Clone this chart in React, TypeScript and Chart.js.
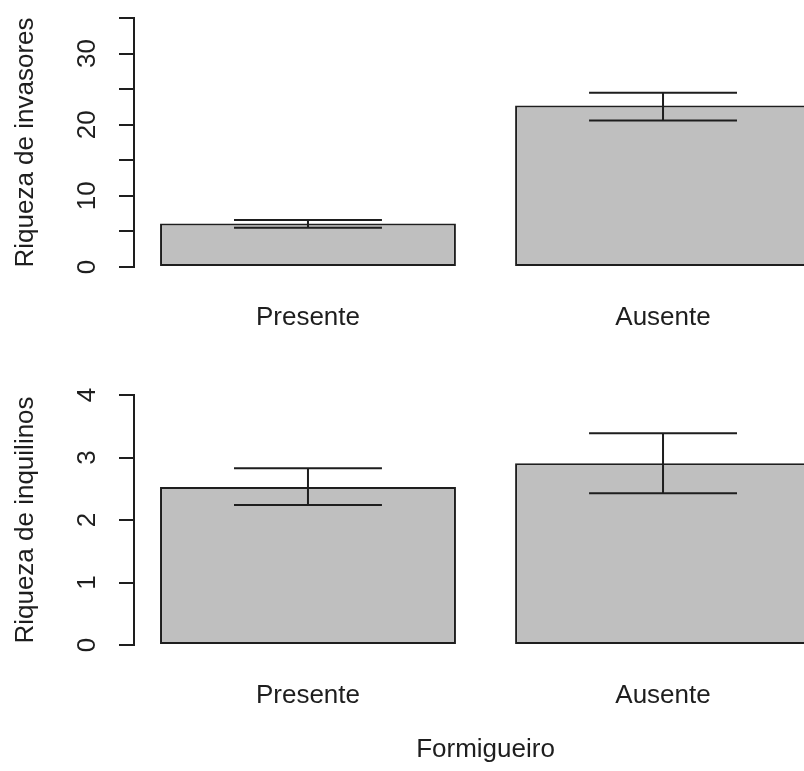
import React, { useEffect, useRef } from "react";
import { Chart, registerables } from "chart.js";

Chart.register(...registerables);

// ---- data ----
const categories = ["Presente", "Ausente"];

const invasoresMeans = [6.1, 22.7];
const invasoresLow = [5.5, 20.6];
const invasoresHigh = [6.6, 24.5];

const inquilinosMeans = [2.53, 2.91];
const inquilinosLow = [2.24, 2.43];
const inquilinosHigh = [2.83, 3.39];

const invasoresAxisMax = 35;
const invasoresTickStep = 5;
const invasoresLabelEvery = 10;

const inquilinosAxisMax = 4;
const inquilinosTickStep = 1;
const inquilinosLabelEvery = 1;

const yTitleTop = "Riqueza de invasores";
const yTitleBottom = "Riqueza de inquilinos";
const xTitle = "Formigueiro";

// R barplot geometry (space between bars = 0.2 of bar width)
const barSpace = 0.2;
const positions = categories.map((_, i) => barSpace + 0.5 + i * (1 + barSpace));
const xLeft = barSpace;
const xRight = positions[positions.length - 1] + 0.5;
const xExt = (xRight - xLeft) * 0.04;
const xMin = xLeft - xExt;
const xMax = xRight + xExt;

const FONT_FAMILY = "'Liberation Sans', Arial, Helvetica, sans-serif";
const INK = "#1e1e1e";
const CANVAS_W = 860;

function makeErrorPlugin(low: number[], high: number[]) {
  return {
    id: "errorBars",
    afterDatasetsDraw(chart: any) {
      const meta = chart.getDatasetMeta(0);
      const y = chart.scales.y;
      const ctx = chart.ctx;
      ctx.save();
      ctx.strokeStyle = INK;
      ctx.lineWidth = 2;
      meta.data.forEach((bar: any, i: number) => {
        const x = bar.x;
        const half = bar.width / 4;
        const yl = y.getPixelForValue(low[i]);
        const yh = y.getPixelForValue(high[i]);
        ctx.beginPath();
        ctx.moveTo(x, yl);
        ctx.lineTo(x, yh);
        ctx.moveTo(x - half, yl);
        ctx.lineTo(x + half, yl);
        ctx.moveTo(x - half, yh);
        ctx.lineTo(x + half, yh);
        ctx.stroke();
      });
      ctx.restore();
    },
  };
}

type PanelProps = {
  top: number;
  height: number;
  means: number[];
  low: number[];
  high: number[];
  yMax: number;
  yStep: number;
  labelEvery: number;
  yTitle: string;
  padTop: number;
  xAxisHeight: number;
  yTickPadding: number;
  showXTitle: boolean;
};

function Panel(p: PanelProps) {
  const ref = useRef<HTMLCanvasElement | null>(null);
  useEffect(() => {
    if (!ref.current) return;
    const font = { family: FONT_FAMILY, size: 26 };
    const chart = new Chart(ref.current, {
      type: "bar",
      data: {
        datasets: [
          {
            data: positions.map((x, i) => ({ x, y: p.means[i] })),
            backgroundColor: "#bfbfbf",
            borderColor: INK,
            borderWidth: 2,
            borderSkipped: false,
            barPercentage: 1 / (1 + barSpace),
            categoryPercentage: 1,
          } as any,
        ],
      },
      options: {
        animation: false,
        responsive: false,
        maintainAspectRatio: false,
        layout: { padding: { top: p.padTop, left: 0, right: CANVAS_W - 837, bottom: 0 } },
        plugins: { legend: { display: false }, tooltip: { enabled: false } },
        scales: {
          x: {
            type: "linear",
            min: xMin,
            max: xMax,
            offset: false,
            grid: { display: false, drawTicks: false },
            border: { display: false },
            afterBuildTicks: (s: any) => {
              s.ticks = positions.map((v) => ({ value: v }));
            },
            afterFit: (s: any) => {
              s.height = p.xAxisHeight;
              s.paddingLeft = 0;
              s.paddingRight = 0;
            },
            ticks: {
              callback: (_v: any, i: number) => categories[i],
              font,
              color: INK,
              padding: 35,
              maxRotation: 0,
              autoSkip: false,
            },
            title: {
              display: p.showXTitle,
              text: xTitle,
              font,
              color: INK,
              padding: { top: 0, bottom: 6 },
            },
          },
          y: {
            type: "linear",
            min: 0,
            max: p.yMax,
            afterFit: (s: any) => {
              s.width = 134;
              s.paddingTop = 0;
              s.paddingBottom = 0;
            },
            ticks: {
              stepSize: p.yStep,
              callback: (v: any) => (Number(v) % p.labelEvery === 0 ? String(v) : ""),
              minRotation: 90,
              maxRotation: 90,
              crossAlign: "center",
              padding: p.yTickPadding,
              autoSkip: false,
              font,
              color: INK,
            },
            grid: {
              drawOnChartArea: false,
              drawTicks: true,
              tickLength: 15,
              color: INK,
              lineWidth: 2,
            },
            border: { display: true, color: INK, width: 2 },
            title: {
              display: true,
              text: p.yTitle,
              font,
              color: INK,
              padding: { top: 10, bottom: 0 },
            },
          },
        },
      } as any,
      plugins: [makeErrorPlugin(p.low, p.high)],
    });
    return () => chart.destroy();
  }, []);
  return (
    <canvas
      ref={ref}
      width={CANVAS_W}
      height={p.height}
      style={{ position: "absolute", left: 0, top: p.top, width: CANVAS_W, height: p.height }}
    />
  );
}

export default function App() {
  return (
    <div
      style={{
        position: "fixed",
        left: 0,
        top: 0,
        width: 804,
        height: 771,
        overflow: "hidden",
        background: "#ffffff",
      }}
    >
      <Panel
        top={0}
        height={370}
        means={invasoresMeans}
        low={invasoresLow}
        high={invasoresHigh}
        yMax={invasoresAxisMax}
        yStep={invasoresTickStep}
        labelEvery={invasoresLabelEvery}
        yTitle={yTitleTop}
        padTop={18}
        xAxisHeight={370 - 267}
        yTickPadding={17}
        showXTitle={false}
      />
      <Panel
        top={370}
        height={401}
        means={inquilinosMeans}
        low={inquilinosLow}
        high={inquilinosHigh}
        yMax={inquilinosAxisMax}
        yStep={inquilinosTickStep}
        labelEvery={inquilinosLabelEvery}
        yTitle={yTitleBottom}
        padTop={25}
        xAxisHeight={771 - 645}
        yTickPadding={24}
        showXTitle={true}
      />
    </div>
  );
}
